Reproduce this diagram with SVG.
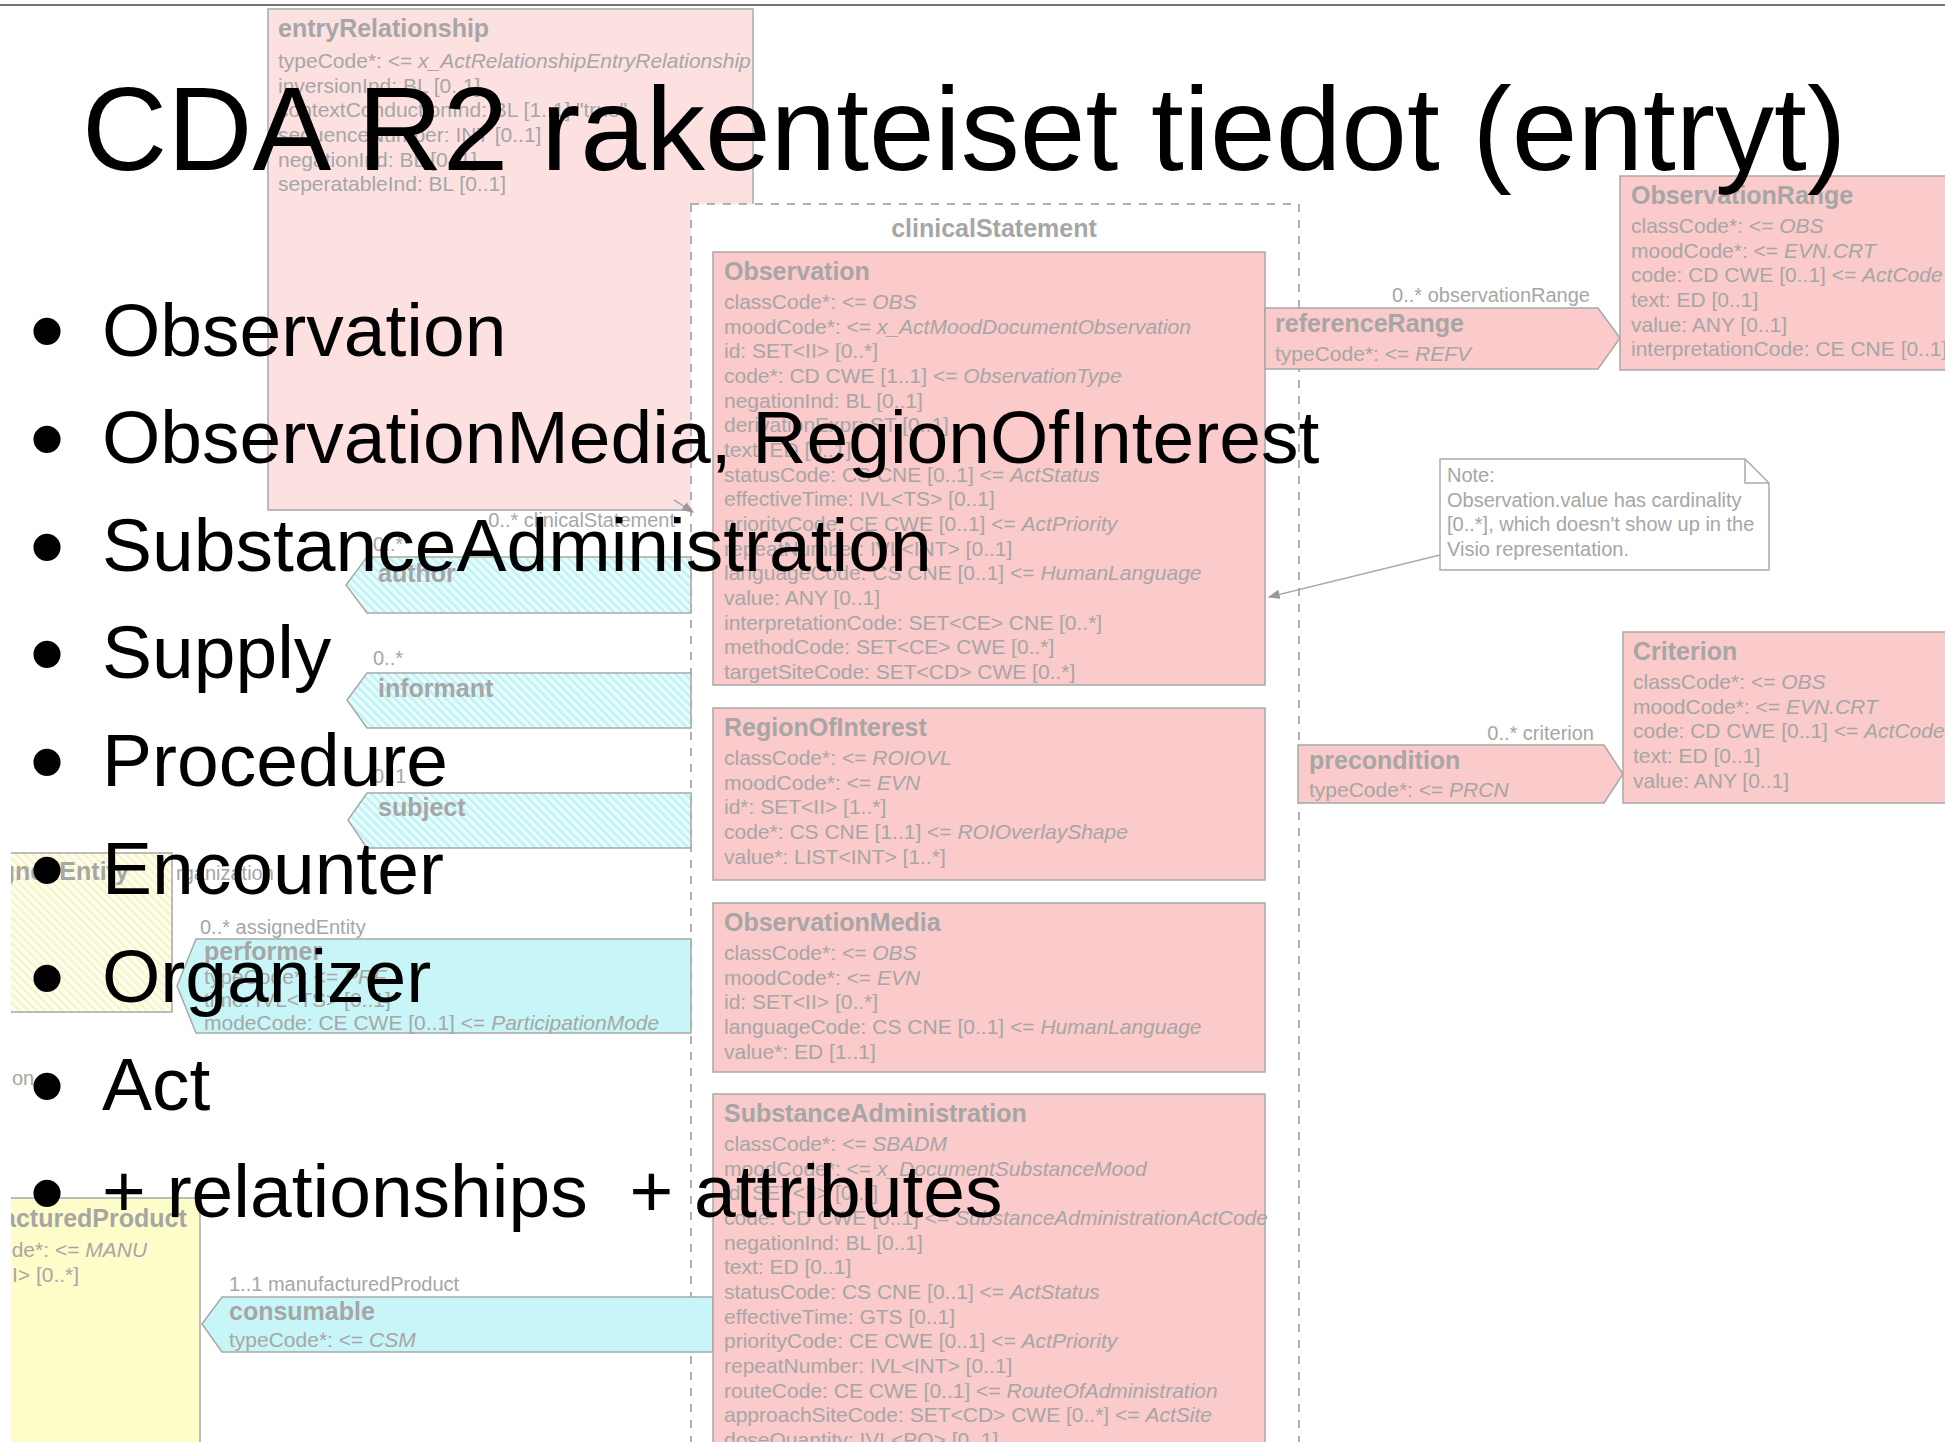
<svg xmlns="http://www.w3.org/2000/svg" width="1945" height="1442" viewBox="0 0 1945 1442">
<defs>
<style>
.t{font-family:"Liberation Sans",Arial,sans-serif;font-size:21px;fill:#a6a6a6}
.s{font-size:20px}
.h{font-weight:bold;font-size:25px}
.i{font-style:italic}
.bx{stroke:#a8a8a8;stroke-width:1.5}
.pk{fill:#fbcaca}
.pl{fill:#fde1e1}
.cy{fill:#c8f6f8}
.cyh{fill:url(#hc)}
.yl{fill:#fefdca}
.ylh{fill:url(#hy)}
.big{font-family:"Liberation Sans",Arial,sans-serif;fill:#000}
.bul{font-size:75px}
.dot{font-size:100px;text-anchor:middle}
</style>
<pattern id="hc" width="6" height="6" patternUnits="userSpaceOnUse" patternTransform="rotate(-45)"><rect width="6" height="6" fill="#e9fcfc"/><rect width="2.5" height="6" fill="#bdf2f4"/></pattern>
<pattern id="hy" width="6" height="6" patternUnits="userSpaceOnUse" patternTransform="rotate(-45)"><rect width="6" height="6" fill="#fffff0"/><rect width="2.5" height="6" fill="#f8f3c6"/></pattern>
<clipPath id="clipD"><rect x="11" y="8" width="1934" height="1434"/></clipPath>
<marker id="arr" viewBox="0 0 10 10" refX="9" refY="5" markerWidth="8" markerHeight="8" orient="auto"><path d="M0,1 L10,5 L0,9 z" fill="#999"/></marker>
</defs>
<rect width="1945" height="1442" fill="#fff"/>
<line x1="0" y1="5" x2="1945" y2="5" stroke="#444" stroke-width="1.5"/>
<g clip-path="url(#clipD)">
<g id="entryRelationship">
<rect class="bx pl" x="268" y="9" width="485" height="501"/>
<text class="t h" x="278" y="37">entryRelationship</text>
<text class="t" x="278" y="68">typeCode*: &lt;= <tspan class="i">x_ActRelationshipEntryRelationship</tspan></text>
<text class="t" x="278" y="93">inversionInd: BL [0..1]</text>
<text class="t" x="278" y="117">contextConductionInd: BL [1..1] "true"</text>
<text class="t" x="278" y="142">sequenceNumber: INT [0..1]</text>
<text class="t" x="278" y="167">negationInd: BL [0..1]</text>
<text class="t" x="278" y="191">seperatableInd: BL [0..1]</text>
</g>
<g id="clinicalStatement">
<rect x="691" y="204" width="608" height="1260" fill="#fff" stroke="#b0b0b0" stroke-width="2" stroke-dasharray="8 8"/>
<text class="t h" x="994" y="237" text-anchor="middle">clinicalStatement</text>
</g>
<g id="author">
<polygon class="bx cyh" points="367,557 691,557 691,613 367,613 346,585"/>
<text class="t s" x="373" y="551">0..*</text>
<text class="t h" x="378" y="582">author</text>
</g>
<g id="informant">
<polygon class="bx cyh" points="367,673 691,673 691,728 367,728 347,700"/>
<text class="t s" x="373" y="665">0..*</text>
<text class="t h" x="378" y="697">informant</text>
</g>
<g id="subject">
<polygon class="bx cyh" points="367,793 691,793 691,848 367,848 348,820"/>
<text class="t s" x="373" y="783">0..1</text>
<text class="t h" x="378" y="816">subject</text>
</g>
<g id="assignedEntity">
<rect class="bx ylh" x="-100" y="853" width="272" height="159"/>
<text class="t h" x="-49" y="880">assignedEntity</text>
<text class="t s" x="176" y="880">rganization</text>
</g>
<text class="t s" x="12" y="1085">on</text>
<g id="performer">
<polygon class="bx cy" points="196,939 691,939 691,1033 196,1033 177,986"/>
<text class="t s" x="200" y="934">0..* assignedEntity</text>
<text class="t h" x="204" y="960">performer</text>
<text class="t" x="204" y="984">typeCode*: &lt;= <tspan class="i">PRF</tspan></text>
<text class="t" x="204" y="1007">time: IVL&lt;TS&gt; [0..1]</text>
<text class="t" x="204" y="1030">modeCode: CE CWE [0..1] &lt;= <tspan class="i">ParticipationMode</tspan></text>
</g>
<g id="manufacturedProduct">
<rect class="bx yl" x="-100" y="1198" width="300" height="300"/>
<text class="t h" x="-73" y="1227">manufacturedProduct</text>
<text class="t" x="-63" y="1257">classCode*: &lt;= <tspan class="i">MANU</tspan></text>
<text class="t" x="-75" y="1282">id: SET&lt;II&gt; [0..*]</text>
</g>
<g id="consumable">
<polygon class="bx cy" points="222,1297 713,1297 713,1352 222,1352 202,1324"/>
<text class="t s" x="229" y="1291">1..1 manufacturedProduct</text>
<text class="t h" x="229" y="1320">consumable</text>
<text class="t" x="229" y="1347">typeCode*: &lt;= <tspan class="i">CSM</tspan></text>
</g>
<g id="Observation">
<rect class="bx pk" x="713" y="252" width="552" height="433"/>
<text class="t h" x="724" y="280">Observation</text>
<text class="t" x="724" y="309">classCode*: &lt;= <tspan class="i">OBS</tspan></text>
<text class="t" x="724" y="333.7">moodCode*: &lt;= <tspan class="i">x_ActMoodDocumentObservation</tspan></text>
<text class="t" x="724" y="358.3">id: SET&lt;II&gt; [0..*]</text>
<text class="t" x="724" y="383">code*: CD CWE [1..1] &lt;= <tspan class="i">ObservationType</tspan></text>
<text class="t" x="724" y="407.7">negationInd: BL [0..1]</text>
<text class="t" x="724" y="432.3">derivationExpr: ST [0..1]</text>
<text class="t" x="724" y="457">text: ED [0..1]</text>
<text class="t" x="724" y="481.7">statusCode: CS CNE [0..1] &lt;= <tspan class="i">ActStatus</tspan></text>
<text class="t" x="724" y="506.3">effectiveTime: IVL&lt;TS&gt; [0..1]</text>
<text class="t" x="724" y="531">priorityCode: CE CWE [0..1] &lt;= <tspan class="i">ActPriority</tspan></text>
<text class="t" x="724" y="555.7">repeatNumber: IVL&lt;INT&gt; [0..1]</text>
<text class="t" x="724" y="580.3">languageCode: CS CNE [0..1] &lt;= <tspan class="i">HumanLanguage</tspan></text>
<text class="t" x="724" y="605">value: ANY [0..1]</text>
<text class="t" x="724" y="629.7">interpretationCode: SET&lt;CE&gt; CNE [0..*]</text>
<text class="t" x="724" y="654.3">methodCode: SET&lt;CE&gt; CWE [0..*]</text>
<text class="t" x="724" y="679">targetSiteCode: SET&lt;CD&gt; CWE [0..*]</text>
</g>
<g id="RegionOfInterest">
<rect class="bx pk" x="713" y="708" width="552" height="172"/>
<text class="t h" x="724" y="736">RegionOfInterest</text>
<text class="t" x="724" y="765">classCode*: &lt;= <tspan class="i">ROIOVL</tspan></text>
<text class="t" x="724" y="789.7">moodCode*: &lt;= <tspan class="i">EVN</tspan></text>
<text class="t" x="724" y="814.3">id*: SET&lt;II&gt; [1..*]</text>
<text class="t" x="724" y="839">code*: CS CNE [1..1] &lt;= <tspan class="i">ROIOverlayShape</tspan></text>
<text class="t" x="724" y="863.7">value*: LIST&lt;INT&gt; [1..*]</text>
</g>
<g id="ObservationMedia">
<rect class="bx pk" x="713" y="903" width="552" height="169"/>
<text class="t h" x="724" y="931">ObservationMedia</text>
<text class="t" x="724" y="960">classCode*: &lt;= <tspan class="i">OBS</tspan></text>
<text class="t" x="724" y="984.7">moodCode*: &lt;= <tspan class="i">EVN</tspan></text>
<text class="t" x="724" y="1009.3">id: SET&lt;II&gt; [0..*]</text>
<text class="t" x="724" y="1034">languageCode: CS CNE [0..1] &lt;= <tspan class="i">HumanLanguage</tspan></text>
<text class="t" x="724" y="1058.7">value*: ED [1..1]</text>
</g>
<g id="SubstanceAdministration">
<rect class="bx pk" x="713" y="1094" width="552" height="400"/>
<text class="t h" x="724" y="1122">SubstanceAdministration</text>
<text class="t" x="724" y="1151">classCode*: &lt;= <tspan class="i">SBADM</tspan></text>
<text class="t" x="724" y="1175.7">moodCode*: &lt;= <tspan class="i">x_DocumentSubstanceMood</tspan></text>
<text class="t" x="724" y="1200.3">id: SET&lt;II&gt; [0..*]</text>
<text class="t" x="724" y="1225">code: CD CWE [0..1] &lt;= <tspan class="i">SubstanceAdministrationActCode</tspan></text>
<text class="t" x="724" y="1249.7">negationInd: BL [0..1]</text>
<text class="t" x="724" y="1274.3">text: ED [0..1]</text>
<text class="t" x="724" y="1299">statusCode: CS CNE [0..1] &lt;= <tspan class="i">ActStatus</tspan></text>
<text class="t" x="724" y="1323.7">effectiveTime: GTS [0..1]</text>
<text class="t" x="724" y="1348.3">priorityCode: CE CWE [0..1] &lt;= <tspan class="i">ActPriority</tspan></text>
<text class="t" x="724" y="1373">repeatNumber: IVL&lt;INT&gt; [0..1]</text>
<text class="t" x="724" y="1397.7">routeCode: CE CWE [0..1] &lt;= <tspan class="i">RouteOfAdministration</tspan></text>
<text class="t" x="724" y="1422.3">approachSiteCode: SET&lt;CD&gt; CWE [0..*] &lt;= <tspan class="i">ActSite</tspan></text>
<text class="t" x="724" y="1447">doseQuantity: IVL&lt;PQ&gt; [0..1]</text>
</g>
<g id="referenceRange">
<polygon class="bx pk" points="1265,308 1598,308 1620,338 1598,369 1265,369"/>
<text class="t s" x="1590" y="302" text-anchor="end">0..* observationRange</text>
<text class="t h" x="1275" y="332">referenceRange</text>
<text class="t" x="1275" y="361">typeCode*: &lt;= <tspan class="i">REFV</tspan></text>
</g>
<g id="ObservationRange">
<rect class="bx pk" x="1620" y="176" width="400" height="194"/>
<text class="t h" x="1631" y="204">ObservationRange</text>
<text class="t" x="1631" y="233">classCode*: &lt;= <tspan class="i">OBS</tspan></text>
<text class="t" x="1631" y="257.7">moodCode*: &lt;= <tspan class="i">EVN.CRT</tspan></text>
<text class="t" x="1631" y="282.3">code: CD CWE [0..1] &lt;= <tspan class="i">ActCode</tspan></text>
<text class="t" x="1631" y="307">text: ED [0..1]</text>
<text class="t" x="1631" y="331.7">value: ANY [0..1]</text>
<text class="t" x="1631" y="356.3">interpretationCode: CE CNE [0..1]</text>
</g>
<g id="note">
<polygon points="1440,459 1745,459 1769,483 1769,570 1440,570" fill="#fff" stroke="#aaa" stroke-width="1.5"/>
<polyline points="1745,459 1745,483 1769,483" fill="none" stroke="#aaa" stroke-width="1.5"/>
<text class="t s" x="1447" y="482">Note:</text>
<text class="t s" x="1447" y="507">Observation.value has cardinality</text>
<text class="t s" x="1447" y="531">[0..*], which doesn't show up in the</text>
<text class="t s" x="1447" y="556">Visio representation.</text>
</g>
<g id="precondition">
<polygon class="bx pk" points="1298,745 1604,745 1623,774 1604,803 1298,803"/>
<text class="t s" x="1594" y="740" text-anchor="end">0..* criterion</text>
<text class="t h" x="1309" y="769">precondition</text>
<text class="t" x="1309" y="797">typeCode*: &lt;= <tspan class="i">PRCN</tspan></text>
</g>
<g id="Criterion">
<rect class="bx pk" x="1623" y="632" width="400" height="171"/>
<text class="t h" x="1633" y="660">Criterion</text>
<text class="t" x="1633" y="689">classCode*: &lt;= <tspan class="i">OBS</tspan></text>
<text class="t" x="1633" y="713.7">moodCode*: &lt;= <tspan class="i">EVN.CRT</tspan></text>
<text class="t" x="1633" y="738.3">code: CD CWE [0..1] &lt;= <tspan class="i">ActCode</tspan></text>
<text class="t" x="1633" y="763">text: ED [0..1]</text>
<text class="t" x="1633" y="787.7">value: ANY [0..1]</text>
</g>
<g id="connectors">
<line x1="1440" y1="555" x2="1269" y2="597" stroke="#aaa" stroke-width="1.5" marker-end="url(#arr)"/>
<line x1="674" y1="500" x2="693" y2="512" stroke="#aaa" stroke-width="1.5" marker-end="url(#arr)"/>
<text class="t s" x="675" y="527" text-anchor="end">0..* clinicalStatement</text>
</g>
</g>
<g id="title">
<text class="big" x="82" y="170" font-size="118">CDA R2 rakenteiset tiedot (entryt)</text>
</g>
<g id="bullets">
<text class="big dot" x="47" y="365">•</text>
<text class="big bul" x="102" y="356">Observation</text>
<text class="big dot" x="47" y="473">•</text>
<text class="big bul" x="102" y="463">ObservationMedia, RegionOfInterest</text>
<text class="big dot" x="47" y="581">•</text>
<text class="big bul" x="102" y="571">SubstanceAdministration</text>
<text class="big dot" x="47" y="688">•</text>
<text class="big bul" x="102" y="678">Supply</text>
<text class="big dot" x="47" y="796">•</text>
<text class="big bul" x="102" y="786">Procedure</text>
<text class="big dot" x="47" y="904">•</text>
<text class="big bul" x="102" y="894">Encounter</text>
<text class="big dot" x="47" y="1012">•</text>
<text class="big bul" x="102" y="1002">Organizer</text>
<text class="big dot" x="47" y="1120">•</text>
<text class="big bul" x="102" y="1110">Act</text>
<text class="big dot" x="47" y="1227">•</text>
<text class="big bul" x="102" y="1217">+ relationships&#160; + attributes</text>
</g>
</svg>
